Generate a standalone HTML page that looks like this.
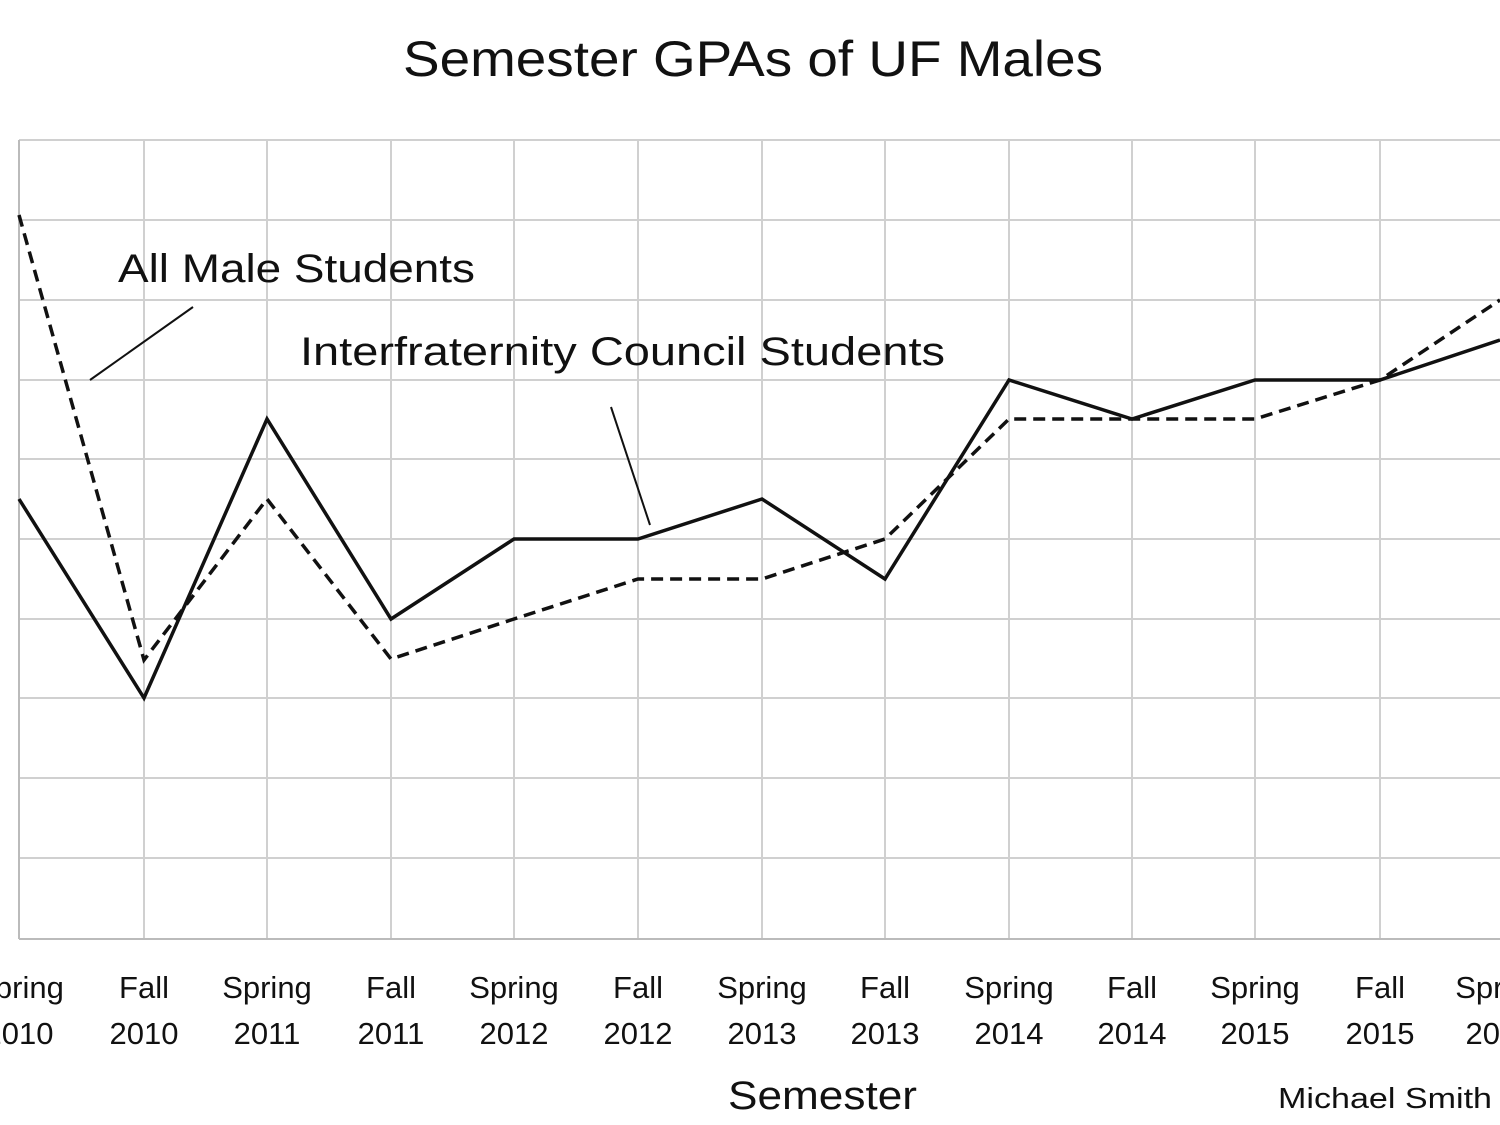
<!DOCTYPE html>
<html><head><meta charset="utf-8"><style>
html,body{margin:0;padding:0;background:#fff;}
svg{display:block;}
text{font-family:"Liberation Sans",sans-serif;fill:#111;}
</style></head><body>
<svg width="1500" height="1125" viewBox="0 0 1500 1125" xmlns="http://www.w3.org/2000/svg">
<rect width="1500" height="1125" fill="#fff"/>
<g stroke="#d0d0d0" stroke-width="2">
<line x1="19" y1="140" x2="1500" y2="140"/>
<line x1="19" y1="220" x2="1500" y2="220"/>
<line x1="19" y1="300" x2="1500" y2="300"/>
<line x1="19" y1="380" x2="1500" y2="380"/>
<line x1="19" y1="459" x2="1500" y2="459"/>
<line x1="19" y1="539" x2="1500" y2="539"/>
<line x1="19" y1="619" x2="1500" y2="619"/>
<line x1="19" y1="698" x2="1500" y2="698"/>
<line x1="19" y1="778" x2="1500" y2="778"/>
<line x1="19" y1="858" x2="1500" y2="858"/>
<line x1="144" y1="140" x2="144" y2="938"/>
<line x1="267" y1="140" x2="267" y2="938"/>
<line x1="391" y1="140" x2="391" y2="938"/>
<line x1="514" y1="140" x2="514" y2="938"/>
<line x1="638" y1="140" x2="638" y2="938"/>
<line x1="762" y1="140" x2="762" y2="938"/>
<line x1="885" y1="140" x2="885" y2="938"/>
<line x1="1009" y1="140" x2="1009" y2="938"/>
<line x1="1132" y1="140" x2="1132" y2="938"/>
<line x1="1255" y1="140" x2="1255" y2="938"/>
<line x1="1380" y1="140" x2="1380" y2="938"/>
</g>
<line x1="19" y1="140" x2="19" y2="939" stroke="#bbb" stroke-width="2"/>
<line x1="19" y1="939" x2="1500" y2="939" stroke="#bbb" stroke-width="2"/>
<polyline fill="none" stroke="#111" stroke-width="3.5" points="19,499 144,698 267,419 391,619 514,539 638,539 762,499 885,579 1009,380 1132,419 1255,380 1380,380 1500,340"/>
<polyline fill="none" stroke="#111" stroke-width="3.5" stroke-dasharray="12,7" points="19,215 144,660 267,499 391,659 514,619 638,579 762,579 885,539 1009,419 1132,419 1255,419 1380,380 1500,300"/>
<line x1="90" y1="380" x2="193" y2="307" stroke="#111" stroke-width="2"/>
<line x1="611" y1="407" x2="650" y2="525" stroke="#111" stroke-width="2"/>
<text x="403" y="76" font-size="50" textLength="700" lengthAdjust="spacingAndGlyphs">Semester GPAs of UF Males</text>
<text x="118" y="282" font-size="40" textLength="357" lengthAdjust="spacingAndGlyphs">All Male Students</text>
<text x="300" y="365" font-size="40" textLength="645" lengthAdjust="spacingAndGlyphs">Interfraternity Council Students</text>
<g font-size="31" text-anchor="middle" fill="#222">
<text x="19" y="998">Spring</text><text x="19" y="1044">2010</text>
<text x="144" y="998">Fall</text><text x="144" y="1044">2010</text>
<text x="267" y="998">Spring</text><text x="267" y="1044">2011</text>
<text x="391" y="998">Fall</text><text x="391" y="1044">2011</text>
<text x="514" y="998">Spring</text><text x="514" y="1044">2012</text>
<text x="638" y="998">Fall</text><text x="638" y="1044">2012</text>
<text x="762" y="998">Spring</text><text x="762" y="1044">2013</text>
<text x="885" y="998">Fall</text><text x="885" y="1044">2013</text>
<text x="1009" y="998">Spring</text><text x="1009" y="1044">2014</text>
<text x="1132" y="998">Fall</text><text x="1132" y="1044">2014</text>
<text x="1255" y="998">Spring</text><text x="1255" y="1044">2015</text>
<text x="1380" y="998">Fall</text><text x="1380" y="1044">2015</text>
<text x="1500" y="998">Spring</text><text x="1500" y="1044">2016</text>
</g>
<text x="728" y="1109" font-size="40" textLength="189" lengthAdjust="spacingAndGlyphs">Semester</text>
<text x="1278" y="1108" font-size="29" textLength="214" lengthAdjust="spacingAndGlyphs">Michael Smith</text>
</svg>
</body></html>
